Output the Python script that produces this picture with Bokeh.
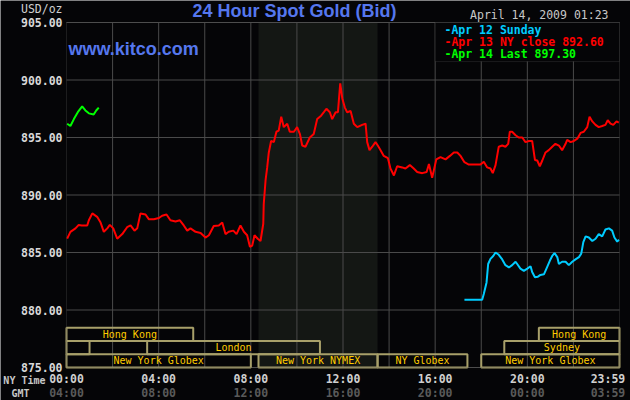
from bokeh.plotting import figure
from bokeh.models import Range1d, BoxAnnotation, Label, ColumnDataSource
from bokeh.core.properties import value
from bokeh.embed import file_html
from bokeh.resources import INLINE

# ---------------- data (hours since 00:00 NY time, USD/oz) ----------------
red_hours = [0.03, 0.17, 0.39, 0.53, 0.66, 0.90, 0.97, 1.12, 1.33, 1.48, 1.62, 1.77, 1.88, 2.03,
             2.20, 2.42, 2.63, 2.78, 2.95, 3.07, 3.21, 3.43, 3.57, 3.79, 4.01, 4.15, 4.34, 4.51,
             4.73, 4.92, 5.09, 5.24, 5.38, 5.60, 5.82, 6.03, 6.18, 6.39, 6.61, 6.76, 6.90, 7.04,
             7.24, 7.38, 7.55, 7.70, 7.84, 7.96, 8.06, 8.16, 8.30, 8.42, 8.54, 8.56, 8.64, 8.71,
             8.78, 8.88, 9.00, 9.11, 9.21, 9.32, 9.43, 9.58, 9.69, 9.87, 10.01, 10.13, 10.23,
             10.37, 10.56, 10.73, 10.88, 11.05, 11.17, 11.28, 11.43, 11.53, 11.68, 11.78, 11.82,
             11.88, 11.97, 12.08, 12.18, 12.33, 12.47, 12.62, 12.83, 12.98, 13.05, 13.15, 13.27,
             13.41, 13.51, 13.63, 13.77, 13.95, 14.06, 14.21, 14.35, 14.57, 14.71, 14.90, 15.07,
             15.22, 15.44, 15.63, 15.73, 15.87, 16.05, 16.23, 16.45, 16.64, 16.81, 16.96, 17.10,
             17.27, 17.46, 17.68, 17.97, 18.11, 18.26, 18.40, 18.50, 18.62, 18.76, 18.91, 19.05,
             19.17, 19.24, 19.34, 19.49, 19.63, 19.78, 19.92, 20.07, 20.21, 20.33, 20.43, 20.54,
             20.65, 20.79, 20.93, 21.08, 21.22, 21.37, 21.51, 21.66, 21.73, 21.88, 22.02, 22.17,
             22.31, 22.45, 22.60, 22.70, 22.82, 22.96, 23.10, 23.25, 23.39, 23.49, 23.61, 23.73,
             23.87, 23.97]
red_values = [886.2, 886.8, 887.1, 887.4, 887.35, 887.35, 887.8, 888.4, 888.1, 887.6, 886.8, 887.1,
              887.4, 887.1, 886.2, 886.6, 887.2, 887.35, 886.9, 887.1, 888.4, 888.3, 887.9, 887.9,
              888.0, 888.2, 888.3, 887.8, 887.7, 887.8, 887.35, 886.9, 887.1, 886.8, 886.7, 886.3,
              886.5, 887.3, 887.35, 887.6, 886.6, 886.8, 886.9, 886.6, 887.35, 886.8, 886.5, 885.5,
              885.6, 886.5, 886.2, 886.0, 887.5, 889.2, 891.3, 892.4, 893.7, 894.7, 894.6, 895.5,
              895.6, 896.8, 895.9, 896.2, 895.5, 895.5, 895.9, 895.3, 894.3, 894.2, 895.0, 895.3,
              896.6, 896.9, 897.2, 897.5, 897.2, 896.6, 897.2, 897.2, 898.2, 899.7, 898.4, 897.6,
              897.2, 897.3, 896.2, 895.9, 896.1, 896.2, 894.6, 893.9, 894.2, 894.6, 894.3, 893.9,
              893.4, 893.2, 892.3, 891.7, 892.5, 892.4, 892.3, 892.6, 892.3, 892.0, 891.9, 892.0,
              892.7, 891.5, 893.1, 893.3, 893.1, 893.4, 893.7, 893.7, 893.4, 892.85, 892.65, 892.65,
              892.65, 892.9, 892.4, 892.3, 891.9, 892.6, 894.2, 894.3, 894.2, 894.45, 895.5, 895.5,
              895.2, 895.0, 895.0, 894.6, 894.7, 894.7, 893.05, 893.0, 892.5, 893.0, 893.7, 893.9,
              894.2, 894.45, 894.3, 893.9, 894.45, 894.8, 894.6, 894.7, 894.9, 895.4, 895.5, 895.9,
              896.8, 896.4, 896.1, 895.9, 896.0, 896.1, 896.5, 896.2, 896.1, 896.4, 896.3]

blue_hours = [17.27, 18.04, 18.11, 18.23, 18.30, 18.40, 18.52, 18.62, 18.76, 18.91, 19.05, 19.20,
              19.34, 19.49, 19.56, 19.70, 19.85, 20.00, 20.14, 20.21, 20.33, 20.46, 20.57, 20.72,
              20.83, 20.98, 21.08, 21.18, 21.30, 21.37, 21.51, 21.66, 21.80, 21.95, 22.09, 22.24,
              22.34, 22.43, 22.53, 22.67, 22.82, 22.96, 23.10, 23.25, 23.39, 23.54, 23.68, 23.78,
              23.90, 23.98]
blue_values = [880.9, 880.9, 881.4, 882.4, 884.0, 884.45, 884.7, 885.0, 884.8, 884.4, 883.9, 883.7,
               883.9, 884.2, 884.0, 883.6, 883.4, 883.6, 883.8, 883.3, 882.85, 882.9, 883.05, 883.1,
               883.6, 884.3, 884.7, 884.95, 884.6, 884.0, 884.2, 884.2, 883.9, 884.2, 884.4, 884.6,
               884.9, 885.9, 886.4, 886.3, 886.0, 886.2, 886.6, 886.4, 887.0, 887.1, 886.9, 886.3,
               885.95, 886.1]

green_hours = [0.03, 0.17, 0.32, 0.49, 0.68, 0.82, 0.97, 1.18, 1.29, 1.40]
green_values = [896.2, 896.0, 896.6, 897.2, 897.7, 897.35, 897.1, 897.0, 897.35, 897.6]

legend_texts = ["-Apr 12 Sunday", "-Apr 13 NY close 892.60", "-Apr 14 Last 897.30"]

session_names = ["Hong Kong", "Hong Kong", "", "London", "Sydney",
                 "New York Globex", "New York NYMEX", "NY Globex", "New York Globex"]
session_start = [0.0, 20.5, 0.0, 3.5, 19.0, 0.0, 8.333, 13.5, 18.0]
session_end = [5.5, 24.0, 1.0, 11.0, 24.0, 8.0, 13.5, 17.4, 24.0]
session_row = [0, 0, 1, 1, 1, 2, 2, 2, 2]
shaded_session = "New York NYMEX"

y_ticks = [875, 880, 885, 890, 895, 900, 905]
grid_hours = [2, 4, 6, 8, 10, 12, 14, 16, 18, 20, 22]
tick_hours = [0, 4, 8, 12, 16, 20, 23.5]   # last one pulled in so that its label fits, as in the original
ny_labels = ["00:00", "04:00", "08:00", "12:00", "16:00", "20:00", "23:59"]
gmt_labels = ["04:00", "08:00", "12:00", "16:00", "20:00", "00:00", "03:59"]

X0, X1, Y0, Y1 = 0, 24, 875, 905

# ---------------- layout / styling ----------------
W, H = 630, 400
PL, PR, PT, PB = 66, 11, 22, 33          # plot area margins inside the canvas (px)
BG = "#050507"
GRID = "#4a4a4a"
MONO = "DejaVu Sans Mono"
SANS = "Liberation Sans"

# the drawing frame is the whole canvas; ranges are widened so the plot area sits at the margins
px_h = (W - PL - PR) / (X1 - X0)
px_v = (H - PT - PB) / (Y1 - Y0)
p = figure(width=W, height=H, output_backend="svg", toolbar_location=None,
           x_range=Range1d(X0 - PL / px_h, X1 + PR / px_h),
           y_range=Range1d(Y0 - PB / px_v, Y1 + PT / px_v),
           x_axis_type=None, y_axis_type=None, min_border=0,
           background_fill_color=BG, border_fill_color=BG, outline_line_color=None)

# NYMEX trading hours shading
i_sh = session_names.index(shaded_session)
p.add_layout(BoxAnnotation(left=session_start[i_sh], right=session_end[i_sh], bottom=Y0, top=Y1,
                           fill_color="#141714", fill_alpha=1.0, line_alpha=0, level="underlay"))

# grid lines (from the tick arrays)
p.segment(x0=grid_hours, y0=[Y0] * len(grid_hours), x1=grid_hours, y1=[Y1] * len(grid_hours),
          line_color=GRID, line_width=1)
p.segment(x0=[X0] * len(y_ticks), y0=y_ticks, x1=[X1] * len(y_ticks), y1=y_ticks,
          line_color=GRID, line_width=1)

# price-axis labels
p.text(x=[X0] * len(y_ticks), y=y_ticks, text=[f"{v:.2f}" for v in y_ticks], x_offset=-4,
       text_align="right", text_baseline="middle", text_font=value(MONO),
       text_font_size=value("11.5px"), text_font_style="bold", text_color="#d8d8d8")
# time-axis labels: NY time and GMT rows
p.text(x=tick_hours, y=[Y0] * len(tick_hours), text=ny_labels, y_offset=11,
       text_align="center", text_baseline="middle", text_font=value(MONO),
       text_font_size=value("11.5px"), text_font_style="bold", text_color="#d0d0d0")
p.text(x=tick_hours, y=[Y0] * len(tick_hours), text=gmt_labels, y_offset=25.5,
       text_align="center", text_baseline="middle", text_font=value(MONO),
       text_font_size=value("11.5px"), text_font_style="bold", text_color="#5a5a5a")

# trading sessions
band = 1.15
src = ColumnDataSource(dict(
    left=session_start, right=session_end,
    bottom=[Y0 + (2 - r) * band for r in session_row],
    top=[Y0 + (3 - r) * band for r in session_row],
    mid=[(a + b) / 2 for a, b in zip(session_start, session_end)],
    ymid=[Y0 + (2.5 - r) * band for r in session_row],
    name=session_names))
p.quad(left="left", right="right", bottom="bottom", top="top", source=src,
       fill_alpha=0, line_color="#a8a06a", line_width=2)
p.text(x="mid", y="ymid", text="name", source=src, text_align="center", text_baseline="middle",
       text_font=value(MONO), text_font_size=value("10px"), text_color="#ffcc00")

# price lines
p.line(blue_hours, blue_values, line_color="#00ccff", line_width=2)
p.line(red_hours, red_values, line_color="#ff0000", line_width=2)
p.line(green_hours, green_values, line_color="#00ff00", line_width=2)

# plot-area border
p.add_layout(BoxAnnotation(left=X0, right=X1, bottom=Y0, top=Y1, fill_alpha=0,
                           line_color="#555555", line_width=1))

# legend box + entries
p.add_layout(BoxAnnotation(left=16, right=X1, bottom=901.6, top=Y1, fill_color=BG,
                           fill_alpha=1.0, line_color="#555555", line_width=1))


def lab(x, y, text, **kw):
    # x from the canvas left, y from the canvas top (px)
    p.add_layout(Label(x=x, y=H - y, x_units="screen", y_units="screen", text=text, **kw))


for i, (t, c) in enumerate(zip(legend_texts, ["#00ccff", "#ff0000", "#00ff00"])):
    lab(444, 29 + 12.2 * i, t, text_font=MONO, text_font_size="11.5px", text_font_style="bold",
        text_color=c, text_baseline="middle", text_align="left")

lab(294, 0, "24 Hour Spot Gold (Bid)", text_font=SANS, text_font_size="18px",
    text_font_style="bold", text_color="#5577ee", text_align="center", text_baseline="top")
lab(68, 38.5, "www.kitco.com", text_font=SANS, text_font_size="18px",
    text_font_style="bold", text_color="#5577ee", text_align="left", text_baseline="top")
lab(62, 8.5, "USD/oz", text_font=MONO, text_font_size="11.5px",
    text_color="#d0d0d0", text_align="right", text_baseline="middle")
lab(608, 14.5, "April 14, 2009 01:23", text_font=MONO, text_font_size="11.5px",
    text_color="#c8c8c8", text_align="right", text_baseline="middle")
lab(45, 380, "NY Time", text_font=MONO, text_font_size="10px", text_font_style="bold",
    text_color="#c8c8c8", text_align="right", text_baseline="middle")
lab(20, 392.5, "GMT", text_font=MONO, text_font_size="10px", text_font_style="bold",
    text_color="#c8c8c8", text_align="center", text_baseline="middle")

open("out.html", "w").write(file_html(p, INLINE))
